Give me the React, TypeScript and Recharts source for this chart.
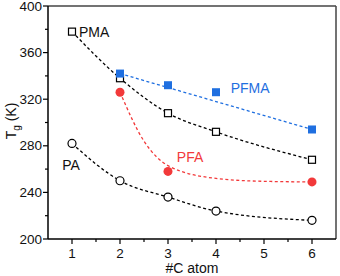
import React from "react";
import {
  ComposedChart,
  Line,
  Scatter,
  XAxis,
  YAxis,
  ReferenceLine,
  ReferenceDot,
} from "recharts";

// measured points
const pma = [
  { x: 1, y: 378 },
  { x: 2, y: 338 },
  { x: 3, y: 308 },
  { x: 4, y: 292 },
  { x: 6, y: 268 },
];
const pfma = [
  { x: 2, y: 342 },
  { x: 3, y: 332 },
  { x: 4, y: 326 },
  { x: 6, y: 294 },
];
const pfa = [
  { x: 2, y: 326 },
  { x: 3, y: 258 },
  { x: 6, y: 249 },
];
const pa = [
  { x: 1, y: 282 },
  { x: 2, y: 250 },
  { x: 3, y: 236 },
  { x: 4, y: 224 },
  { x: 6, y: 216 },
];

// fitted dashed curves
const pfmaFit = [
  { x: 2, y: 342 },
  { x: 6, y: 294 },
];
const pfaFit = [
  { x: 2, y: 326 },
  { x: 2.5, y: 284 },
  { x: 3, y: 263 },
  { x: 4, y: 252 },
  { x: 5, y: 249.5 },
  { x: 6, y: 249 },
];

const xTicks = [1, 1.5, 2, 2.5, 3, 3.5, 4, 4.5, 5, 5.5, 6];
const yTicks = [200, 220, 240, 260, 280, 300, 320, 340, 360, 380, 400];

const BLUE = "#1F6FE0";
const RED = "#F2393A";
const FONT = "'Liberation Sans', Arial, sans-serif";

const XTick = (props: any) => {
  const { x, y, payload } = props;
  const major = Number.isInteger(payload.value);
  return (
    <g>
      <line x1={x} x2={x} y1={y} y2={y + (major ? 5 : 3)} stroke="#000" strokeWidth={1.2} />
      {major && (
        <text x={x} y={y + 19} textAnchor="middle" fontSize={13.5} fontFamily={FONT} fill="#111">
          {payload.value}
        </text>
      )}
    </g>
  );
};

const YTick = (props: any) => {
  const { x, y, payload } = props;
  const major = payload.value % 40 === 0;
  return (
    <g>
      <line x1={x} x2={x - (major ? 5 : 3)} y1={y} y2={y} stroke="#000" strokeWidth={1.2} />
      {major && (
        <text x={x - 6} y={y + 4.5} textAnchor="end" fontSize={13.5} fontFamily={FONT} fill="#111">
          {payload.value}
        </text>
      )}
    </g>
  );
};

const openSquare = (props: any) => (
  <rect x={props.cx - 3.5} y={props.cy - 3.5} width={7} height={7} fill="#fff" stroke="#000" strokeWidth={1.2} />
);
const openCircle = (props: any) => (
  <circle cx={props.cx} cy={props.cy} r={4} fill="#fff" stroke="#000" strokeWidth={1.2} />
);
const blueSquare = (props: any) => (
  <rect x={props.cx - 4} y={props.cy - 4} width={8} height={8} fill={BLUE} />
);
const redCircle = (props: any) => <circle cx={props.cx} cy={props.cy} r={4.5} fill={RED} />;

const seriesLabel = (text: string, color: string) => ({
  value: text,
  position: "center" as const,
  fill: color,
  fontSize: 14,
  fontFamily: FONT,
});

export default function App() {
  return (
    <div style={{ position: "absolute", left: 0, top: 0, background: "#fff" }}>
      <ComposedChart width={340} height={276} margin={{ top: 6, right: 4, left: 0, bottom: 0 }}>
        <XAxis
          type="number"
          dataKey="x"
          domain={[0.5, 6.5]}
          ticks={xTicks}
          interval={0}
          height={37}
          tickLine={false}
          tickSize={0}
          tickMargin={0}
          tick={<XTick />}
          axisLine={{ stroke: "#000", strokeWidth: 1.5 }}
          allowDuplicatedCategory={false}
          label={{ value: "#C atom", position: "insideBottom", offset: 3, fontSize: 14, fontFamily: FONT, fill: "#111" }}
        />
        <YAxis
          type="number"
          dataKey="y"
          domain={[200, 400]}
          ticks={yTicks}
          interval={0}
          width={48}
          tickLine={false}
          tickSize={0}
          tickMargin={0}
          tick={<YTick />}
          axisLine={{ stroke: "#000", strokeWidth: 1.5 }}
          label={{
            content: () => (
              <text transform="translate(16,121) rotate(-90)" textAnchor="middle" fontSize={14} fontFamily={FONT} fill="#111">
                T<tspan fontSize={10} dy={4}>g</tspan>
                <tspan dy={-4}> (K)</tspan>
              </text>
            ),
          }}
        />
        <ReferenceLine y={400} stroke="#444" strokeWidth={1.5} />
        <ReferenceLine x={6.5} stroke="#444" strokeWidth={1.5} />

        <Line data={pma} dataKey="y" type="monotone" stroke="#000" strokeWidth={1.3} strokeDasharray="3 2.5" dot={false} isAnimationActive={false} />
        <Line data={pa} dataKey="y" type="monotone" stroke="#000" strokeWidth={1.3} strokeDasharray="3 2.5" dot={false} isAnimationActive={false} />
        <Line data={pfmaFit} dataKey="y" type="linear" stroke={BLUE} strokeWidth={1.3} strokeDasharray="3 2.5" dot={false} isAnimationActive={false} />
        <Line data={pfaFit} dataKey="y" type="monotone" stroke={RED} strokeWidth={1.3} strokeDasharray="3 2.5" dot={false} isAnimationActive={false} />

        <Scatter data={pma} dataKey="y" shape={openSquare} isAnimationActive={false} />
        <Scatter data={pa} dataKey="y" shape={openCircle} isAnimationActive={false} />
        <Scatter data={pfma} dataKey="y" shape={blueSquare} isAnimationActive={false} />
        <Scatter data={pfa} dataKey="y" shape={redCircle} isAnimationActive={false} />

        <ReferenceDot x={1.46} y={378} r={0} stroke="none" label={seriesLabel("PMA", "#111")} />
        <ReferenceDot x={0.98} y={263.5} r={0} stroke="none" label={seriesLabel("PA", "#111")} />
        <ReferenceDot x={4.71} y={330} r={0} stroke="none" label={seriesLabel("PFMA", BLUE)} />
        <ReferenceDot x={3.46} y={270} r={0} stroke="none" label={seriesLabel("PFA", RED)} />
      </ComposedChart>
    </div>
  );
}
